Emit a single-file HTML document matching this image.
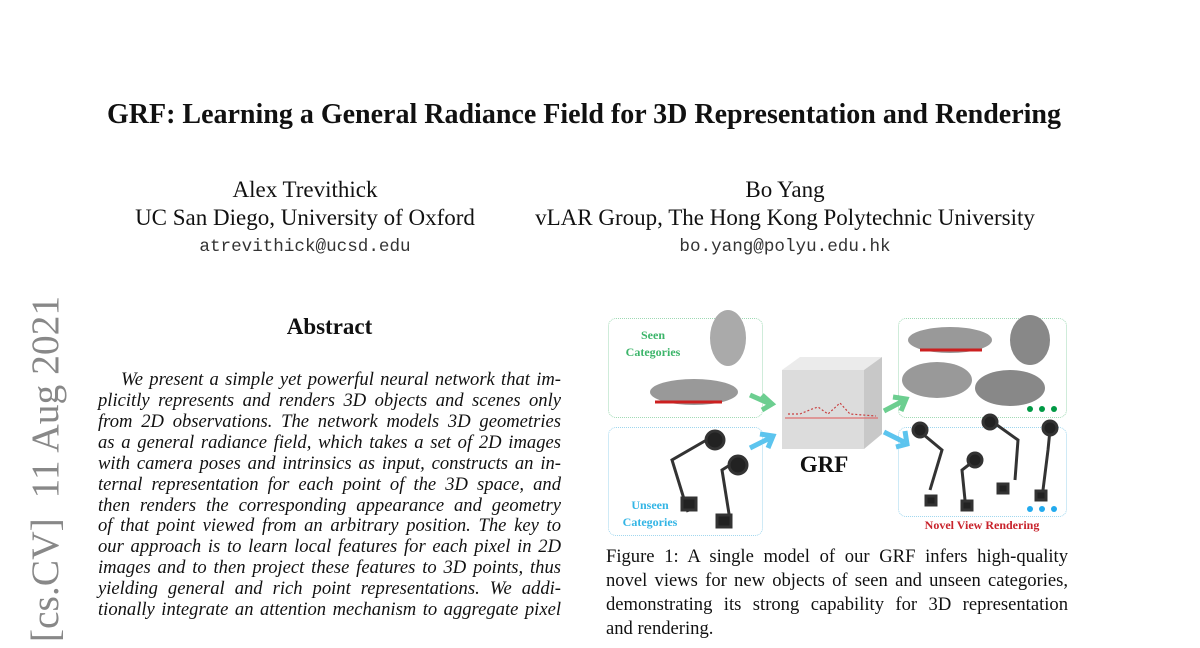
<!DOCTYPE html>
<html><head><meta charset="utf-8"><style>
body{margin:0;width:1200px;height:648px;background:#fff;position:relative;overflow:hidden;font-family:"Liberation Serif",serif;color:#111}
.a{position:absolute;white-space:nowrap}
.j{position:absolute;text-align:justify;text-align-last:justify;white-space:nowrap;overflow:visible}
.ab{font-style:italic;font-size:18.6px;left:98px;width:463px;height:21px;line-height:21px}
.cp{font-size:18.6px;left:606px;width:462px;height:24px;line-height:24px}
.box{position:absolute;border:1.5px dotted;border-radius:8px}
</style></head><body>
<div class="a" style="left:0;width:1168px;text-align:center;top:99px;line-height:32px;font-size:28px;font-weight:bold">GRF: Learning a General Radiance Field for 3D Representation and Rendering</div>
<div class="a" style="left:130px;width:350px;text-align:center;top:176px;line-height:28px;font-size:23px">Alex Trevithick</div>
<div class="a" style="left:130px;width:350px;text-align:center;top:204px;line-height:28px;font-size:23px">UC San Diego, University of Oxford</div>
<div class="a" style="left:130px;width:350px;text-align:center;top:237px;line-height:20px;font-size:17.6px;font-family:'Liberation Mono',monospace;color:#333">atrevithick@ucsd.edu</div>
<div class="a" style="left:520px;width:530px;text-align:center;top:176px;line-height:28px;font-size:23px">Bo Yang</div>
<div class="a" style="left:520px;width:530px;text-align:center;top:204px;line-height:28px;font-size:23px">vLAR Group, The Hong Kong Polytechnic University</div>
<div class="a" style="left:520px;width:530px;text-align:center;top:237px;line-height:20px;font-size:17.6px;font-family:'Liberation Mono',monospace;color:#333">bo.yang@polyu.edu.hk</div>
<div class="a" style="left:45px;top:469px;transform:translate(-50%,-50%) rotate(-90deg);font-size:39.5px;color:#888">[cs.CV]&nbsp; 11 Aug 2021</div>
<div class="a" style="left:98px;width:463px;text-align:center;top:313px;line-height:28px;font-size:23px;font-weight:bold">Abstract</div>
<div class="j ab" style="top:369px;left:121px;width:440px">We present a simple yet powerful neural network that im-</div>
<div class="j ab" style="top:390px">plicitly represents and renders 3D objects and scenes only</div>
<div class="j ab" style="top:411px">from 2D observations. The network models 3D geometries</div>
<div class="j ab" style="top:432px">as a general radiance field, which takes a set of 2D images</div>
<div class="j ab" style="top:453px">with camera poses and intrinsics as input, constructs an in-</div>
<div class="j ab" style="top:474px">ternal representation for each point of the 3D space, and</div>
<div class="j ab" style="top:495px">then renders the corresponding appearance and geometry</div>
<div class="j ab" style="top:515px">of that point viewed from an arbitrary position. The key to</div>
<div class="j ab" style="top:536px">our approach is to learn local features for each pixel in 2D</div>
<div class="j ab" style="top:557px">images and to then project these features to 3D points, thus</div>
<div class="j ab" style="top:578px">yielding general and rich point representations. We addi-</div>
<div class="j ab" style="top:599px">tionally integrate an attention mechanism to aggregate pixel</div>

<div class="box" style="left:608px;top:318px;width:153px;height:98px;border-color:#9fd9b4"></div>
<div class="box" style="left:608px;top:427px;width:153px;height:107px;border-color:#9fd6ee"></div>
<div class="box" style="left:898px;top:318px;width:167px;height:98px;border-color:#9fd9b4"></div>
<div class="box" style="left:898px;top:427px;width:167px;height:88px;border-color:#9fd6ee"></div>
<div class="a" style="left:618px;top:327px;width:70px;text-align:center;font-size:12px;font-weight:bold;color:#3cb56a;line-height:17px">Seen<br>Categories</div>
<div class="a" style="left:612px;top:497px;width:76px;text-align:center;font-size:12px;font-weight:bold;color:#33b5e5;line-height:17px">Unseen<br>Categories</div>
<div class="a" style="left:898px;top:518px;width:168px;text-align:center;font-size:12px;font-weight:bold;color:#c8232c">Novel View Rendering</div>
<div class="a" style="left:780px;top:452px;width:88px;text-align:center;font-size:23px;font-weight:bold">GRF</div>
<svg class="a" style="left:600px;top:310px" width="480" height="230">
<polygon points="182,60 264,60 282,47 200,47" fill="#ebebeb"/>
<rect x="182" y="60" width="82" height="79" fill="#dcdcdc"/>
<polygon points="264,60 282,47 282,124 264,139" fill="#c8c8c8"/>
<line x1="185" y1="108" x2="278" y2="108" stroke="#e07070" stroke-width="1.2"/>
<polyline points="188,104 200,104 212,99 218,97 228,104 240,93 250,104 276,106" fill="none" stroke="#c84040" stroke-dasharray="2,2" stroke-width="1.2"/>
<path d="M150,85 L168,93 M162,85 L172,94 L162,100" stroke="#6cce90" stroke-width="5" fill="none"/>
<path d="M150,138 L170,128 M160,124 L173,126 L168,138" stroke="#5cc4ee" stroke-width="5" fill="none"/>
<path d="M284,101 L303,91 M293,87 L306,89 L301,101" stroke="#6cce90" stroke-width="5" fill="none"/>
<path d="M284,122 L304,132 M305,121 L307,134 L296,137" stroke="#5cc4ee" stroke-width="5" fill="none"/>
<g fill="#999"><ellipse cx="128" cy="28" rx="18" ry="28" fill="#aaa"/><ellipse cx="94" cy="82" rx="44" ry="13"/><ellipse cx="350" cy="30" rx="42" ry="13"/><ellipse cx="430" cy="30" rx="20" ry="25" fill="#888"/><ellipse cx="337" cy="70" rx="35" ry="18"/><ellipse cx="410" cy="78" rx="35" ry="18" fill="#888"/></g>
<g stroke="#cc2020" stroke-width="3"><line x1="55" y1="92" x2="122" y2="92"/><line x1="320" y1="40" x2="382" y2="40"/></g>
<g fill="#009944"><circle cx="430" cy="99" r="3"/><circle cx="442" cy="99" r="3"/><circle cx="454" cy="99" r="3"/><circle cx="430" cy="199" r="3" fill="#22aaee"/><circle cx="442" cy="199" r="3" fill="#22aaee"/><circle cx="454" cy="199" r="3" fill="#22aaee"/></g>
<g stroke="#333" stroke-width="3" fill="#222"><path d="M88,202 L72,150 L110,128 M130,210 L122,160 L138,150" fill="none"/><rect x="82" y="188" width="14" height="12"/><rect x="117" y="205" width="14" height="12"/><circle cx="115" cy="130" r="9"/><circle cx="138" cy="155" r="9"/>
<path d="M330,180 L342,140 L318,120 M365,190 L362,160 L375,150 M415,170 L418,130 L390,110 M443,180 L448,140 L450,120" fill="none"/><circle cx="320" cy="120" r="7"/><circle cx="375" cy="150" r="7"/><circle cx="390" cy="112" r="7"/><circle cx="450" cy="118" r="7"/>
<rect x="326" y="186" width="10" height="9"/><rect x="362" y="191" width="10" height="9"/><rect x="398" y="174" width="10" height="9"/><rect x="436" y="181" width="10" height="9"/></g>
</svg>

<div class="j cp" style="top:545px">Figure 1: A single model of our GRF infers high-quality</div>
<div class="j cp" style="top:569px">novel views for new objects of seen and unseen categories,</div>
<div class="j cp" style="top:593px">demonstrating its strong capability for 3D representation</div>
<div class="a cp" style="top:617px">and rendering.</div>
</body></html>
